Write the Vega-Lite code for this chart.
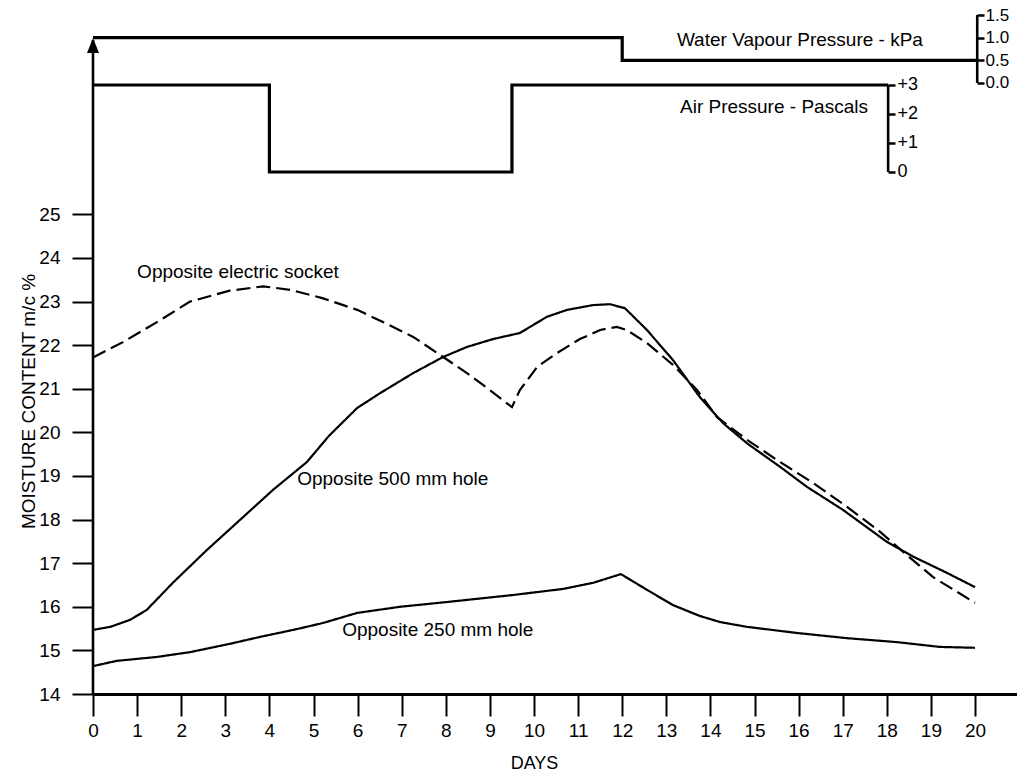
{
  "$schema": "https://vega.github.io/schema/vega-lite/v6.json",
  "width": 924,
  "height": 682,
  "autosize": {"type": "none"},
  "padding": {"left": 93, "top": 12, "right": 0, "bottom": 81},
  "background": "white",
  "config": {
    "view": {"stroke": null},
    "font": "Liberation Sans",
    "axis": {
      "domainColor": "black", "tickColor": "black", "labelColor": "black", "titleColor": "black",
      "grid": false, "labelFlush": false, "labelOverlap": false, "labelBound": false,
      "titleFontWeight": "normal", "labelFont": "Liberation Sans", "titleFont": "Liberation Sans"
    }
  },
  "datasets": {
    "moisture": [
      {"series": "Opposite electric socket", "day": 0, "mc": 21.72},
      {"series": "Opposite electric socket", "day": 0.68, "mc": 22.07},
      {"series": "Opposite electric socket", "day": 1.45, "mc": 22.53},
      {"series": "Opposite electric socket", "day": 2.2, "mc": 23.0},
      {"series": "Opposite electric socket", "day": 3.1, "mc": 23.25},
      {"series": "Opposite electric socket", "day": 3.86, "mc": 23.35},
      {"series": "Opposite electric socket", "day": 4.47, "mc": 23.27},
      {"series": "Opposite electric socket", "day": 5.2, "mc": 23.08},
      {"series": "Opposite electric socket", "day": 5.99, "mc": 22.81},
      {"series": "Opposite electric socket", "day": 6.6, "mc": 22.52},
      {"series": "Opposite electric socket", "day": 7.26, "mc": 22.19},
      {"series": "Opposite electric socket", "day": 7.94, "mc": 21.73},
      {"series": "Opposite electric socket", "day": 8.48, "mc": 21.36},
      {"series": "Opposite electric socket", "day": 9.0, "mc": 20.97},
      {"series": "Opposite electric socket", "day": 9.5, "mc": 20.58},
      {"series": "Opposite electric socket", "day": 9.68, "mc": 20.97},
      {"series": "Opposite electric socket", "day": 10.07, "mc": 21.5},
      {"series": "Opposite electric socket", "day": 10.52, "mc": 21.82},
      {"series": "Opposite electric socket", "day": 11.04, "mc": 22.14},
      {"series": "Opposite electric socket", "day": 11.5, "mc": 22.35},
      {"series": "Opposite electric socket", "day": 11.88, "mc": 22.42},
      {"series": "Opposite electric socket", "day": 12.1, "mc": 22.35},
      {"series": "Opposite electric socket", "day": 12.56, "mc": 22.05},
      {"series": "Opposite electric socket", "day": 13.15, "mc": 21.55},
      {"series": "Opposite electric socket", "day": 13.7, "mc": 20.97},
      {"series": "Opposite electric socket", "day": 14.15, "mc": 20.35},
      {"series": "Opposite electric socket", "day": 14.83, "mc": 19.83},
      {"series": "Opposite electric socket", "day": 15.58, "mc": 19.32},
      {"series": "Opposite electric socket", "day": 16.33, "mc": 18.84},
      {"series": "Opposite electric socket", "day": 17.1, "mc": 18.29},
      {"series": "Opposite electric socket", "day": 17.85, "mc": 17.72},
      {"series": "Opposite electric socket", "day": 18.37, "mc": 17.26},
      {"series": "Opposite electric socket", "day": 19.05, "mc": 16.68},
      {"series": "Opposite electric socket", "day": 20, "mc": 16.09},
      {"series": "Opposite 500 mm hole", "day": 0, "mc": 15.47},
      {"series": "Opposite 500 mm hole", "day": 0.39, "mc": 15.54},
      {"series": "Opposite 500 mm hole", "day": 0.84, "mc": 15.7},
      {"series": "Opposite 500 mm hole", "day": 1.22, "mc": 15.93},
      {"series": "Opposite 500 mm hole", "day": 1.81, "mc": 16.55},
      {"series": "Opposite 500 mm hole", "day": 2.58, "mc": 17.3},
      {"series": "Opposite 500 mm hole", "day": 3.33, "mc": 17.99},
      {"series": "Opposite 500 mm hole", "day": 4.08, "mc": 18.68},
      {"series": "Opposite 500 mm hole", "day": 4.85, "mc": 19.32},
      {"series": "Opposite 500 mm hole", "day": 5.35, "mc": 19.92},
      {"series": "Opposite 500 mm hole", "day": 5.99, "mc": 20.56},
      {"series": "Opposite 500 mm hole", "day": 6.51, "mc": 20.9},
      {"series": "Opposite 500 mm hole", "day": 7.26, "mc": 21.36},
      {"series": "Opposite 500 mm hole", "day": 7.94, "mc": 21.73},
      {"series": "Opposite 500 mm hole", "day": 8.48, "mc": 21.96},
      {"series": "Opposite 500 mm hole", "day": 9.07, "mc": 22.14},
      {"series": "Opposite 500 mm hole", "day": 9.68, "mc": 22.28},
      {"series": "Opposite 500 mm hole", "day": 10.29, "mc": 22.65},
      {"series": "Opposite 500 mm hole", "day": 10.75, "mc": 22.81},
      {"series": "Opposite 500 mm hole", "day": 11.34, "mc": 22.92},
      {"series": "Opposite 500 mm hole", "day": 11.72, "mc": 22.94},
      {"series": "Opposite 500 mm hole", "day": 12.06, "mc": 22.85},
      {"series": "Opposite 500 mm hole", "day": 12.56, "mc": 22.35},
      {"series": "Opposite 500 mm hole", "day": 13.15, "mc": 21.66},
      {"series": "Opposite 500 mm hole", "day": 13.76, "mc": 20.81},
      {"series": "Opposite 500 mm hole", "day": 14.29, "mc": 20.21},
      {"series": "Opposite 500 mm hole", "day": 14.83, "mc": 19.75},
      {"series": "Opposite 500 mm hole", "day": 15.58, "mc": 19.21},
      {"series": "Opposite 500 mm hole", "day": 16.19, "mc": 18.75},
      {"series": "Opposite 500 mm hole", "day": 17.01, "mc": 18.22},
      {"series": "Opposite 500 mm hole", "day": 18.0, "mc": 17.49},
      {"series": "Opposite 500 mm hole", "day": 18.6, "mc": 17.15},
      {"series": "Opposite 500 mm hole", "day": 19.36, "mc": 16.78},
      {"series": "Opposite 500 mm hole", "day": 20, "mc": 16.45},
      {"series": "Opposite 250 mm hole", "day": 0, "mc": 14.64},
      {"series": "Opposite 250 mm hole", "day": 0.54, "mc": 14.76},
      {"series": "Opposite 250 mm hole", "day": 1.45, "mc": 14.85},
      {"series": "Opposite 250 mm hole", "day": 2.2, "mc": 14.96},
      {"series": "Opposite 250 mm hole", "day": 3.1, "mc": 15.15},
      {"series": "Opposite 250 mm hole", "day": 3.79, "mc": 15.31},
      {"series": "Opposite 250 mm hole", "day": 4.63, "mc": 15.49},
      {"series": "Opposite 250 mm hole", "day": 5.22, "mc": 15.63},
      {"series": "Opposite 250 mm hole", "day": 5.99, "mc": 15.86},
      {"series": "Opposite 250 mm hole", "day": 6.96, "mc": 16.0},
      {"series": "Opposite 250 mm hole", "day": 8.03, "mc": 16.11},
      {"series": "Opposite 250 mm hole", "day": 9.52, "mc": 16.27},
      {"series": "Opposite 250 mm hole", "day": 10.66, "mc": 16.41},
      {"series": "Opposite 250 mm hole", "day": 11.34, "mc": 16.55},
      {"series": "Opposite 250 mm hole", "day": 11.97, "mc": 16.75},
      {"series": "Opposite 250 mm hole", "day": 12.56, "mc": 16.39},
      {"series": "Opposite 250 mm hole", "day": 13.15, "mc": 16.04},
      {"series": "Opposite 250 mm hole", "day": 13.76, "mc": 15.79},
      {"series": "Opposite 250 mm hole", "day": 14.22, "mc": 15.65},
      {"series": "Opposite 250 mm hole", "day": 14.83, "mc": 15.54},
      {"series": "Opposite 250 mm hole", "day": 15.96, "mc": 15.4},
      {"series": "Opposite 250 mm hole", "day": 17.1, "mc": 15.28},
      {"series": "Opposite 250 mm hole", "day": 18.23, "mc": 15.19},
      {"series": "Opposite 250 mm hole", "day": 19.2, "mc": 15.08},
      {"series": "Opposite 250 mm hole", "day": 20, "mc": 15.06}
    ],
    "mcLabels": [
      {"label": "Opposite electric socket", "day": 1.0, "mc": 23.68},
      {"label": "Opposite 500 mm hole", "day": 4.63, "mc": 18.93},
      {"label": "Opposite 250 mm hole", "day": 5.65, "mc": 15.47}
    ],
    "mcAxis": [{"day": 0, "mc": 14, "mc2": 29.0}],
    "mcArrow": [{"day": 0, "mc": 28.874}],
    "water": [{"day": 0, "kpa": 1.0}, {"day": 12, "kpa": 0.5}, {"day": 20.05, "kpa": 0.5}],
    "waterAxis": [{"day": 20.05, "kpa": 0, "kpa2": 1.5}],
    "waterLabel": [{"label": "Water Vapour Pressure - kPa", "day": 13.24, "kpa": 0.949}],
    "air": [{"day": 0, "pa": 3}, {"day": 4, "pa": 0}, {"day": 9.5, "pa": 3}, {"day": 18.03, "pa": 3}],
    "airAxis": [{"day": 18.03, "pa": 0, "pa2": 3}],
    "airLabel": [{"label": "Air Pressure - Pascals", "day": 13.31, "pa": 2.24}]
  },
  "encoding": {
    "x": {
      "field": "day", "type": "quantitative",
      "scale": {"domain": [0, 20.952], "nice": false, "zero": false},
      "axis": {
        "values": [0,1,2,3,4,5,6,7,8,9,10,11,12,13,14,15,16,17,18,19,20],
        "tickSize": 22, "tickWidth": 2, "domainWidth": 3,
        "labelFontSize": 19, "labelPadding": 5,
        "title": "DAYS", "titleFontSize": 18, "titleX": 441, "titleY": 74,
        "titleBaseline": "alphabetic", "titleAlign": "center"
      }
    }
  },
  "resolve": {"scale": {"y": "independent"}, "axis": {"y": "independent"}},
  "layer": [
    {
      "encoding": {
        "y": {
          "field": "mc", "type": "quantitative",
          "scale": {"domain": [14, 29.642], "nice": false, "zero": false},
          "axis": {
            "orient": "left",
            "values": [14,15,16,17,18,19,20,21,22,23,24,25],
            "domain": false, "tickSize": 21, "tickWidth": 2,
            "labelFontSize": 19, "labelPadding": 12,
            "title": "MOISTURE CONTENT m/c %", "titleFontSize": 19,
            "titleAngle": -90, "titleX": -59, "titleY": 389,
            "titleAlign": "center", "titleBaseline": "alphabetic"
          }
        }
      },
      "layer": [
        {
          "data": {"name": "moisture"},
          "mark": {"type": "line", "color": "black", "strokeWidth": 2.2},
          "encoding": {
            "detail": {"field": "series", "type": "nominal"},
            "strokeDash": {
              "field": "series", "type": "nominal",
              "scale": {"domain": ["Opposite 500 mm hole", "Opposite 250 mm hole", "Opposite electric socket"], "range": [[1, 0], [1, 0], [14, 6]]},
              "legend": null
            }
          }
        },
        {
          "data": {"name": "mcAxis"},
          "mark": {"type": "rule", "color": "black", "strokeWidth": 2.6},
          "encoding": {"y2": {"field": "mc2"}}
        },
        {
          "data": {"name": "mcArrow"},
          "mark": {"type": "point", "shape": "M0,-1L0.8,1L-0.8,1Z", "size": 225, "filled": true, "color": "black", "opacity": 1}
        },
        {
          "data": {"name": "mcLabels"},
          "mark": {"type": "text", "align": "left", "baseline": "middle", "fontSize": 19, "color": "black"},
          "encoding": {"text": {"field": "label", "type": "nominal"}}
        }
      ]
    },
    {
      "encoding": {
        "y": {
          "field": "kpa", "type": "quantitative",
          "scale": {"domain": [-13.488, 1.5673], "nice": false, "zero": false},
          "axis": {
            "orient": "right", "offset": -40,
            "values": [0, 0.5, 1, 1.5], "format": ".1f",
            "domain": false, "tickSize": 7, "tickWidth": 2.5,
            "labelFontSize": 17, "labelPadding": 1, "title": null
          }
        }
      },
      "layer": [
        {
          "data": {"name": "water"},
          "mark": {"type": "line", "color": "black", "strokeWidth": 3.2, "interpolate": "step-after"}
        },
        {
          "data": {"name": "waterAxis"},
          "mark": {"type": "rule", "color": "black", "strokeWidth": 2.6},
          "encoding": {"y2": {"field": "kpa2"}}
        },
        {
          "data": {"name": "waterLabel"},
          "mark": {"type": "text", "align": "left", "baseline": "middle", "fontSize": 19, "color": "black"},
          "encoding": {"text": {"field": "label", "type": "nominal"}}
        }
      ]
    },
    {
      "encoding": {
        "y": {
          "field": "pa", "type": "quantitative",
          "scale": {"domain": [-18, 5.517], "nice": false, "zero": false},
          "axis": {
            "orient": "right", "offset": -129,
            "values": [0, 1, 2, 3],
            "labelExpr": "datum.value > 0 ? '+' + datum.label : datum.label",
            "domain": false, "tickSize": 7, "tickWidth": 2.5,
            "labelFontSize": 18, "labelPadding": 2, "title": null
          }
        }
      },
      "layer": [
        {
          "data": {"name": "air"},
          "mark": {"type": "line", "color": "black", "strokeWidth": 3.2, "interpolate": "step-after"}
        },
        {
          "data": {"name": "airAxis"},
          "mark": {"type": "rule", "color": "black", "strokeWidth": 2.6},
          "encoding": {"y2": {"field": "pa2"}}
        },
        {
          "data": {"name": "airLabel"},
          "mark": {"type": "text", "align": "left", "baseline": "middle", "fontSize": 19, "color": "black"},
          "encoding": {"text": {"field": "label", "type": "nominal"}}
        }
      ]
    }
  ]
}
